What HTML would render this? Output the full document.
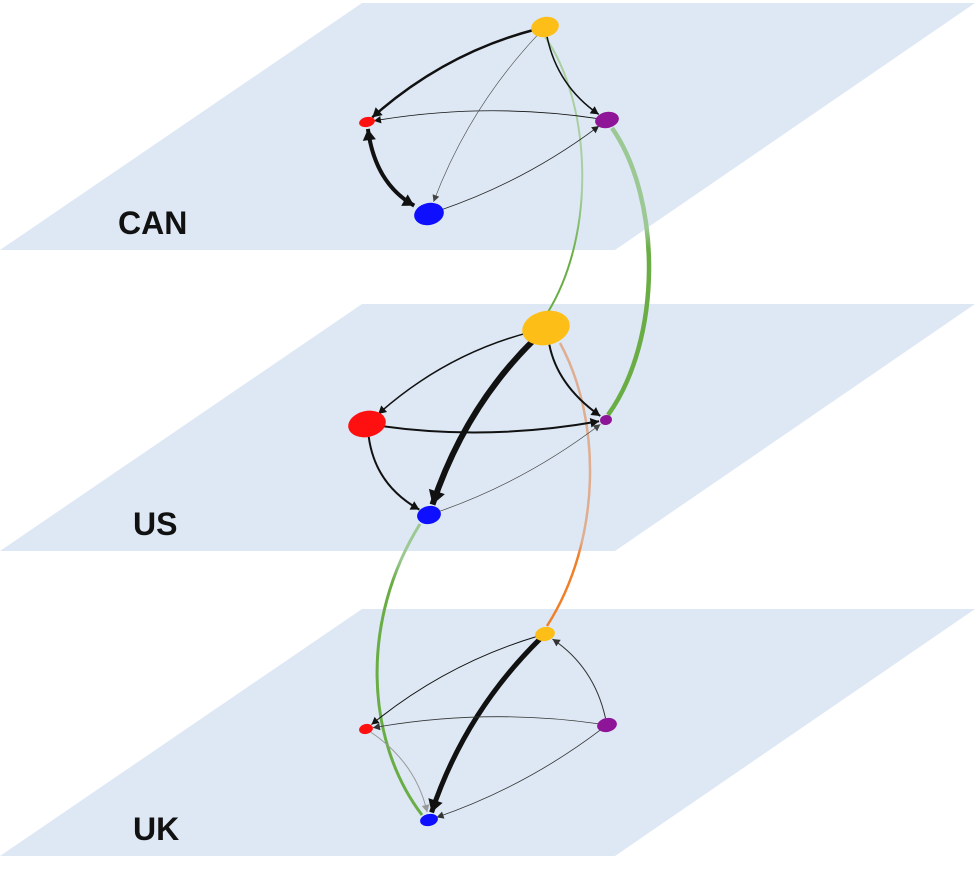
<!DOCTYPE html>
<html><head><meta charset="utf-8"><style>
body{margin:0;background:#fff;}
svg{display:block;font-family:"Liberation Sans",sans-serif;}
</style></head><body>
<svg id="chart" width="975" height="872" viewBox="0 0 975 872">
<defs>
<linearGradient id="g1" gradientUnits="userSpaceOnUse" x1="0" y1="37" x2="0" y2="312"><stop offset="0" stop-color="#a9cfa0"/><stop offset="0.55" stop-color="#a9cfa0"/><stop offset="0.8" stop-color="#6aad45"/><stop offset="1" stop-color="#6aad45"/></linearGradient>
<linearGradient id="g2" gradientUnits="userSpaceOnUse" x1="0" y1="128" x2="0" y2="415"><stop offset="0" stop-color="#9cc894"/><stop offset="0.35" stop-color="#9cc894"/><stop offset="0.42" stop-color="#6aad45"/><stop offset="1" stop-color="#6aad45"/></linearGradient>
<linearGradient id="g3" gradientUnits="userSpaceOnUse" x1="0" y1="343" x2="0" y2="626"><stop offset="0" stop-color="#dfad90"/><stop offset="0.7" stop-color="#dfad90"/><stop offset="0.75" stop-color="#f07f2a"/><stop offset="1" stop-color="#f07f2a"/></linearGradient>
<linearGradient id="g4" gradientUnits="userSpaceOnUse" x1="0" y1="524" x2="0" y2="815"><stop offset="0" stop-color="#9cc894"/><stop offset="0.12" stop-color="#9cc894"/><stop offset="0.2" stop-color="#6aad45"/><stop offset="1" stop-color="#6aad45"/></linearGradient>
</defs>
<g id="planes"></g>
<g id="inter"></g>
<g id="edges"></g>
<g id="nodes"></g>
<g id="labels"></g>
</svg>
<script>
const layers = ["CAN","US","UK"];
const layerTop = [3,304,609];
const nodeNames = ["yellow","red","purple","blue"];
const nodeColors = ["#fdbf17","#ff1010","#8e1597","#0f0fff"];
const nodeX = [[545,367,607,429],[546,367,606,429],[545,366,607,429]];
const nodeY = [[27,122,120,214],[328,424,420,515],[634,729,725,820]];
const nodeRx = [[14,8,12,15],[24,19,6,12],[10,7,10,9]];
const nodeRy = [[10,5,8,11],[17,13,5,9],[7,5,7,6]];
// edges: [layer, src, tgt, width, bend, both-arrows, color]
const edgeLayer = [0,0,0,0,0,0, 1,1,1,1,1,1, 2,2,2,2,2,2];
const edgeSrc =   [0,2,0,3,0,3, 0,0,0,1,1,3, 0,0,2,2,1,2];
const edgeTgt =   [1,1,3,1,2,2, 1,3,2,2,3,2, 1,3,0,1,3,3];
const edgeW =     [2.5,0.8,0.6,4,1.5,0.8, 1.5,6,2,2,2,0.7, 1,5,1,0.8,1,0.8];
const edgeBend =  [0.12,0.08,0.1,-0.25,0.2,0.08, 0.12,0.12,0.2,0.08,0.25,0.08, 0.1,0.12,0.2,0.08,-0.2,-0.08];
const edgeBoth =  [0,0,0,1,0,0, 0,0,0,0,0,0, 0,0,0,0,0,0];
const edgeColor = ["#111","#111","#444","#111","#111","#222","#111","#111","#111","#111","#111","#444","#111","#111","#333","#333","#999","#333"];

const NS="http://www.w3.org/2000/svg";
function mk(tag,attrs,parent){const e=document.createElementNS(NS,tag);for(const k in attrs)e.setAttribute(k,attrs[k]);parent.appendChild(e);return e;}
const gP=document.getElementById('planes'),gI=document.getElementById('inter'),gE=document.getElementById('edges'),gN=document.getElementById('nodes'),gL=document.getElementById('labels');
layers.forEach((L,i)=>{
  const t=layerTop[i],b=t+247;
  const p=mk('polygon',{points:`362,${t} 975,${t} 615,${b} 0,${b}`,fill:'#dde8f4'},gP);
  
  
  const tx=mk('text',{x:L==='CAN'?118:133,y:t+231,'font-size':32,'font-weight':'bold',fill:'#111'},gL);
  tx.textContent=L;
  
  
});
// inter-layer links
const inter=[["M545,37 C590,100 598,230 548,312","url(#g1)",2,"link-can-us-yellow"],["M612,128 C662,200 662,340 608,415","url(#g2)",4.5,"link-can-us-purple"],["M560,343 C602,420 602,540 547,626","url(#g3)",2.5,"link-us-uk-yellow"],["M420,524 C360,620 365,740 422,815","url(#g4)",3,"link-us-uk-blue"]];
inter.forEach(d=>{const e=mk('path',{d:d[0],stroke:d[1],'stroke-width':d[2],fill:'none'},gI);

});
function arrow(x,y,tx,ty,w,col){
  const L=Math.hypot(tx,ty),ux=tx/L,uy=ty/L,s=6+w*1.3,h=3+w*0.9;
  const bx=x-ux*s,by=y-uy*s;
  const a=mk('polygon',{points:`${x},${y} ${bx-uy*h},${by+ux*h} ${bx+uy*h},${by-ux*h}`,fill:col},gE);
  
  
}
edgeSrc.forEach((s,i)=>{
  const l=edgeLayer[i],t=edgeTgt[i];
  let x1=nodeX[l][s],y1=nodeY[l][s],x2=nodeX[l][t],y2=nodeY[l][t];
  const dx=x2-x1,dy=y2-y1,len=Math.hypot(dx,dy);
  const cx=(x1+x2)/2+(-dy/len)*edgeBend[i]*len,cy=(y1+y2)/2+(dx/len)*edgeBend[i]*len;
  // shorten ends
  const sh=(x,y,r)=>{const vx=cx-x,vy=cy-y,d=Math.hypot(vx,vy);return [x+vx/d*r,y+vy/d*r];};
  const [sx,sy]=sh(x1,y1,edgeBoth[i]?nodeRx[l][s]+2:nodeRy[l][s]);
  const [ex,ey]=sh(x2,y2,nodeRy[l][t]+2);
  const p=mk('path',{d:`M${sx},${sy} Q${cx},${cy} ${ex},${ey}`,stroke:edgeColor[i],'stroke-width':edgeW[i],fill:'none'},gE);
  
  
  arrow(ex,ey,ex-cx,ey-cy,edgeW[i],edgeColor[i]);
  if(edgeBoth[i]) arrow(sx,sy,sx-cx,sy-cy,edgeW[i],edgeColor[i]);
});
layers.forEach((L,l)=>nodeNames.forEach((n,k)=>{
  const e=mk('ellipse',{cx:nodeX[l][k],cy:nodeY[l][k],rx:nodeRx[l][k],ry:nodeRy[l][k],fill:nodeColors[k],transform:`rotate(-12 ${nodeX[l][k]} ${nodeY[l][k]})`},gN);
  
  
}));
</script>
</body></html>
